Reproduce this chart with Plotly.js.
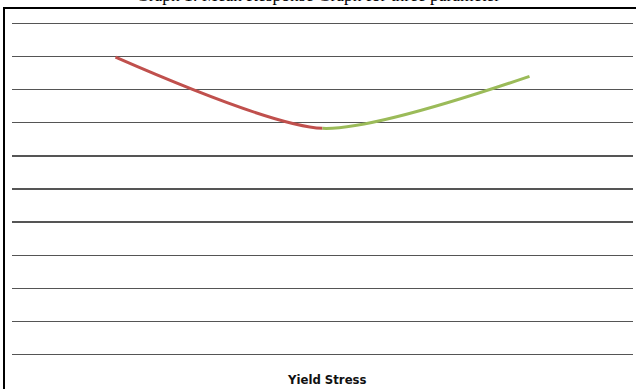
<!DOCTYPE html>
<html>
<head>
<meta charset="utf-8">
<script src="https://cdn.plot.ly/plotly-3.0.1.min.js"></script>
<style>html,body{margin:0;padding:0;background:#fff;}</style>
</head>
<body>
<div id="chart" style="width:636px;height:389px;"></div>
<script>
// Data
const categories = ['Level 1', 'Level 2', 'Level 3'];
const meanResponse = [8.98, 6.83, 8.40];
const chartTitle = 'Graph 1: Mean Response Graph for three parameter';
const xAxisLabel = 'Yield Stress';

const redTrace = {
  x: categories, y: meanResponse, xaxis: 'x', yaxis: 'y',
  type: 'scatter', mode: 'lines',
  line: {color: '#C0504D', width: 3, shape: 'spline', smoothing: 0.7},
  hoverinfo: 'skip', showlegend: false
};
const greenTrace = {
  x: categories, y: meanResponse, xaxis: 'x2', yaxis: 'y',
  type: 'scatter', mode: 'lines',
  line: {color: '#9BBB59', width: 3, shape: 'spline', smoothing: 0.7},
  hoverinfo: 'skip', showlegend: false
};

const hidden = {showticklabels: false, ticks: '', showgrid: false, zeroline: false, showline: false,
  type: 'category', categoryorder: 'array', categoryarray: categories, fixedrange: true};

const layout = {
  width: 636, height: 389,
  margin: {l: 12, r: 3, t: 20, b: 31, pad: 0},
  paper_bgcolor: '#ffffff', plot_bgcolor: 'rgba(0,0,0,0)',
  xaxis: Object.assign({}, hidden, {domain: [0, 0.5], range: [-0.5, 1], anchor: 'y'}),
  xaxis2: Object.assign({}, hidden, {domain: [0.5, 1], range: [1, 2.5], anchor: 'y'}),
  yaxis: {range: [-0.1, 10.1], dtick: 1, tick0: 0, showticklabels: false, ticks: '',
    showgrid: true, gridcolor: '#555555', gridwidth: 1.5, zeroline: false, showline: false, fixedrange: true},
  shapes: [{
    type: 'rect', xref: 'paper', yref: 'paper', layer: 'above',
    x0: (4 - 12) / 621, x1: 1.2, y0: -0.3, y1: 1 + 12 / 338,
    line: {color: '#000000', width: 2}, fillcolor: 'rgba(0,0,0,0)'
  }],
  annotations: [
    {text: chartTitle, xref: 'paper', yref: 'paper', x: (318 - 12) / 621, y: 1 + 13 / 338,
     xanchor: 'center', yanchor: 'bottom', showarrow: false,
     font: {family: '"Liberation Serif", "Times New Roman", serif', size: 17.5, color: '#000'}},
    {text: '<b>' + xAxisLabel + '</b>', xref: 'paper', yref: 'paper', x: (327 - 12) / 621, y: -21 / 338,
     xanchor: 'center', yanchor: 'middle', showarrow: false,
     font: {family: '"DejaVu Sans Condensed", sans-serif', size: 13, color: '#111'}}
  ]
};

Plotly.newPlot('chart', [redTrace, greenTrace], layout, {staticPlot: true, displayModeBar: false});
</script>
</body>
</html>
